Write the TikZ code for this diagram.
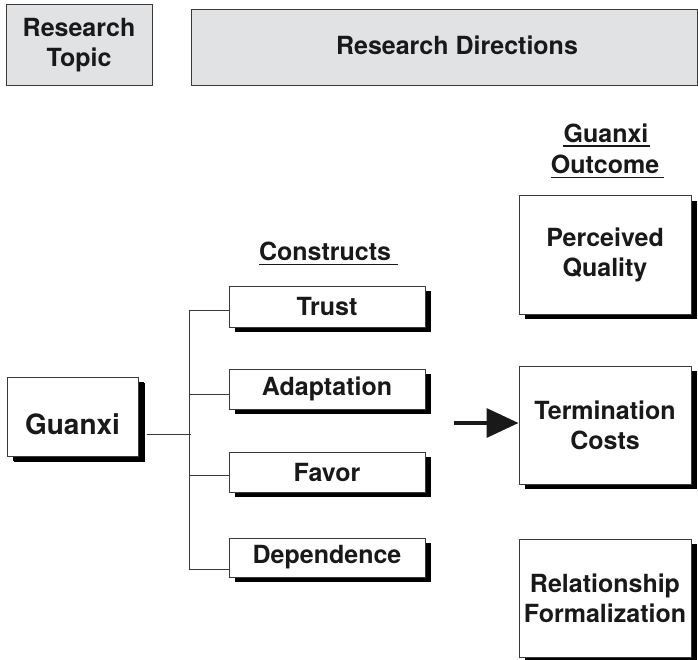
\documentclass[tikz,border=0pt]{standalone}
\usepackage{fontspec}
\setmainfont{TeX Gyre Heros}
\usetikzlibrary{arrows.meta,shadows,calc}
\definecolor{panelgray}{HTML}{E1E2E4}
\definecolor{edgegray}{HTML}{3A3A3A}
\begin{document}
\begin{tikzpicture}[x=1pt,y=-1pt,
  lbl/.style={font=\fontsize{25}{30}\selectfont\bfseries, align=center, text=black!90},
  head/.style={draw=edgegray, line width=1pt, fill=panelgray, lbl, inner sep=0pt},
  box/.style={draw=edgegray, line width=1pt, fill=white, lbl, inner sep=0pt,
    drop shadow={shadow xshift=6pt, shadow yshift=-5pt, fill=black, opacity=1}},
  title/.style={lbl, inner sep=0pt, anchor=base},
  uline/.style={line width=1.8pt, black!90},
  conn/.style={line width=0.9pt, edgegray},
  arrow/.style={line width=3.5pt, black!90, -{Triangle[length=32pt,width=29pt]}}]
\useasboundingbox (0,0) rectangle (698,660);

% header bar
\node[head, minimum width=146pt, minimum height=81pt] (topic) at (79,45.5) {Research\\Topic};
\node[head, minimum width=506pt, minimum height=76pt] (dirs) at (444,48)
  {\hspace*{26pt}\rule[-6pt]{0pt}{6pt}Research Directions};

% column titles
\node[title] (cons) at (325,261) {Constructs};
\draw[uline] ([yshift=-3.5pt]cons.base west) -- ([xshift=7pt,yshift=-3.5pt]cons.base east);
\node[title] (gh1) at (606,143) {Guanxi};
\node[title] (gh2) at (605,174) {Outcome};
\draw[uline] ([yshift=-3pt]gh1.base west) -- ([xshift=1pt,yshift=-3pt]gh1.base east);
\draw[uline] ([yshift=-3.5pt]gh2.base west) -- ([xshift=5pt,yshift=-3.5pt]gh2.base east);

% topic (text sits a little below the middle of its box)
\node[box, minimum width=131pt, minimum height=79pt, font=\fontsize{28}{33}\selectfont\bfseries,
  drop shadow={shadow xshift=7pt, shadow yshift=-6pt, fill=black, opacity=1}] (guanxi) at (72.5,416.5)
  {\rule{0pt}{36pt}Guanxi};

% constructs
\node[box, minimum width=196pt, minimum height=41pt] (trust) at (327,306.5) {Trust};
\node[box, minimum width=196pt, minimum height=40pt] (adapt) at (327,389) {Adaptation};
\node[box, minimum width=196pt, minimum height=40pt] (favor) at (327,472) {Favor};
\node[box, minimum width=196pt, minimum height=39pt] (dep) at (327,557.5) {Dependence};

% outcomes
\node[box, minimum width=172pt, minimum height=118pt] (pq) at (605,255) {Perceived\\Quality};
\node[box, minimum width=172pt, minimum height=118pt] (tc) at (605,425) {Termination\\Costs};
\node[box, minimum width=172pt, minimum height=118pt] (rf) at (605,598) {Relationship\\Formalization};

% bracket from Guanxi to the constructs
\coordinate (bx) at (189,0);
\coordinate (g1) at ($(guanxi.east)+(8,17.5)$);
\coordinate (t1) at ($(trust.west)+(0,3.5)$);
\coordinate (a1) at ($(adapt.west)+(0,5)$);
\coordinate (f1) at ($(favor.west)+(0,3)$);
\coordinate (d1) at ($(dep.west)+(0,11.5)$);
\draw[conn] (g1) -- ($(g1 -| bx)+(2,0)$);
\draw[conn] (t1) -- (t1 -| bx) -- (d1 -| bx) -- (d1);
\draw[conn] (a1 -| bx) -- (a1);
\draw[conn] (f1 -| bx) -- (f1);

% arrow into the outcomes
\coordinate (astart) at (454,423);
\draw[arrow] (astart) -- (tc.west |- astart);
\end{tikzpicture}
\end{document}
